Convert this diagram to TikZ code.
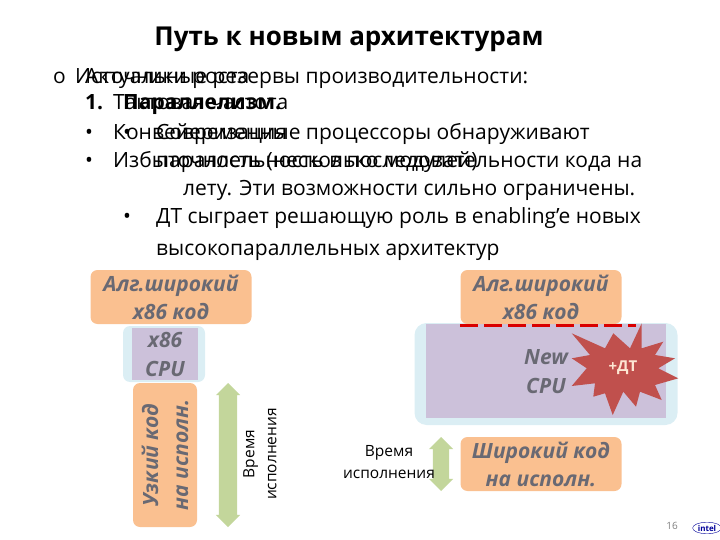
\documentclass[tikz,border=0pt]{standalone}
\usepackage{fontspec}
\setmainfont{Open Sans}
\usetikzlibrary{arrows.meta,positioning,shapes.arrows,shapes.geometric}
\definecolor{codefill}{RGB}{250,192,144}
\definecolor{cpufill}{RGB}{204,193,218}
\definecolor{glowfill}{RGB}{219,238,244}
\definecolor{arrowfill}{RGB}{195,214,155}
\definecolor{burstfill}{RGB}{192,80,77}
\definecolor{labelgray}{RGB}{105,105,115}
\tikzset{
    bodytext/.style={anchor=base west,inner sep=0pt,font=\fontsize{21}{21}\selectfont},
    boldtext/.style={anchor=base west,inner sep=0pt,font=\fontsize{21}{21}\selectfont\bfseries},
    codebox/.style={fill=codefill,rounded corners=7pt,inner sep=0pt,align=center,text=labelgray,
        font=\fontsize{21}{28}\selectfont\bfseries\itshape},
    timelabel/.style={align=center,inner sep=0pt,font=\fontsize{15.5}{22}\selectfont}
}
\begin{document}
\begin{tikzpicture}[x=1pt,y=-1pt]
    \useasboundingbox (0,0) rectangle (720,540);

    %================================================
    % Title and text
    %================================================
    \node[anchor=base,inner sep=0pt,font=\fontsize{26}{26}\selectfont\bfseries] (title) at (349,46) {Путь к новым архитектурам};

    \node[bodytext] (mark) at (53,84) {o};
    \node[bodytext] (head1) at (75,84) {Источники роста};
    \node[bodytext] (head2) at (85,84) {Актуальные резервы производительности:};
    \node[boldtext] (num1) at (85,110) {1.};
    \node[bodytext] (freq) at (113,110) {Тактовая частота};
    \node[boldtext] (par) at (123,110) {Параллелизм.};
    \node[bodytext] (dot1) at (85,140) {•};
    \node[bodytext] (conv) at (113,140) {Конвейеризация};
    \node[bodytext] (dot2) at (85,168) {•};
    \node[bodytext] (redun) at (113,168) {Избыточность (несколько модулей)};

    \node[bodytext] (dot3) at (123,140) {•};
    \node[bodytext] (l1) at (156,140) {Современные процессоры обнаруживают};
    \node[bodytext] (l2) at (156,168) {параллельность в последовательности кода на};
    \node[bodytext] (l3) at (183,196) {лету. Эти возможности сильно ограничены.};
    \node[bodytext] (dot4) at (123,224) {•};
    \node[bodytext] (l4) at (156,224) {ДТ сыграет решающую роль в enabling’е новых};
    \node[bodytext] (l5) at (156,255) {высокопараллельных архитектур};

    %================================================
    % Left: narrow code
    %================================================
    \node[fill=glowfill,rounded corners=7pt,minimum width=82pt,minimum height=56pt,inner sep=0pt] (cpuglow) at (164,354) {};
    \node[fill=cpufill,minimum width=66pt,minimum height=52pt,inner sep=0pt,align=center,text=labelgray,
        font=\fontsize{21}{29}\selectfont\bfseries\itshape] (cpul) at (165,354) {x86\\CPU};
    \node[codebox,minimum width=161pt,minimum height=54pt] (algl) at (171,297) {Алг.широкий\\x86 код};
    \node[codebox,minimum width=144pt,minimum height=64pt,rotate=90,font=\fontsize{21}{30}\selectfont\bfseries\itshape] (narrow) at (165,455) {Узкий код\\на исполн.};
    \node[double arrow,draw=none,fill=arrowfill,double arrow head extend=3pt,
        minimum height=144pt,inner sep=9pt,shape border rotate=90] (timel) at (228,455) {};
    \node[timelabel,rotate=90] (timelabl) at (260,454) {Время\\исполнения};

    %================================================
    % Right: wide code
    %================================================
    \node[fill=glowfill,rounded corners=12pt,minimum width=263pt,minimum height=102pt,inner sep=0pt] (cpuwglow) at (546,374) {};
    \node[fill=cpufill,minimum width=240pt,minimum height=94pt,inner sep=0pt] (cpur) at (546,371) {};
    \node[codebox,minimum width=161pt,minimum height=54pt] (algr) at (541,297) {Алг.широкий\\x86 код};
    \node[align=center,inner sep=0pt,text=labelgray,font=\fontsize{21}{29}\selectfont\bfseries\itshape] (newcpu) at (546,372) {New\\CPU};
    \fill[burstfill] (641.7,323.3) -- (630,348.3) -- (613.3,333.3) -- (605,348.3) -- (571.7,333.3) -- (590,355)
        -- (571.7,358.3) -- (586.7,368.3) -- (571.7,386) -- (595,383.3) -- (593.3,396.7) -- (605,393.3)
        -- (612.7,415) -- (623.3,391.7) -- (636,406.7) -- (640,391.7) -- (661.7,400) -- (655,385)
        -- (678.3,378.3) -- (658.3,368.3) -- (675,358.3) -- (655,355) -- (663.3,341.7) -- (641.7,348.3) -- cycle;
    \node[text=codefill!40!white,inner sep=0pt,font=\fontsize{15}{15}\selectfont\bfseries] (dt) at (623,368) {+ДТ};
    \coordinate (dashl) at (460,325);
    \coordinate (dashr) at (636,325);
    \draw[red!85!black,line width=3pt,dash pattern=on 18pt off 6pt] (dashl) -- (dashr);
    \node[codebox,minimum width=161pt,minimum height=54pt] (wide) at (541,464) {Широкий код\\на исполн.};
    \node[double arrow,draw=none,fill=arrowfill,double arrow head extend=4pt,
        minimum height=54pt,inner sep=8pt,shape border rotate=90] (timer) at (441,464) {};
    \node[timelabel] (timelabr) at (389,462) {Время\\исполнения};

    %================================================
    % Page number and logo
    %================================================
    \node[text=gray,inner sep=0pt,font=\fontsize{10}{10}\selectfont] (page) at (672,526) {16};
    \node[draw=blue!60!black,ellipse,inner sep=1pt,text=blue!60!black,font=\fontsize{8}{8}\selectfont\bfseries] (logo) at (707,528) {intel};
\end{tikzpicture}
\end{document}
